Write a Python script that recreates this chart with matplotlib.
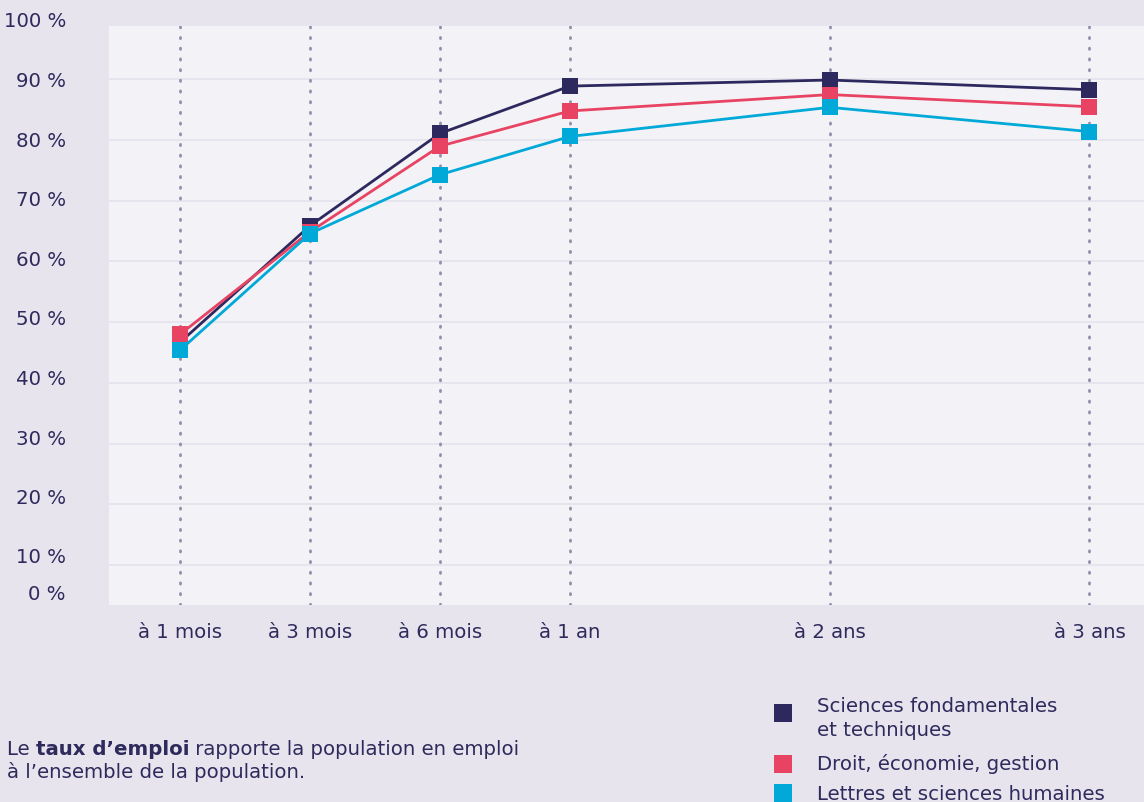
import matplotlib
matplotlib.use('Agg')
import matplotlib.pyplot as plt
from matplotlib.patches import Rectangle
from matplotlib.transforms import blended_transform_factory

# data
periodes = ['à 1 mois', 'à 3 mois', 'à 6 mois', 'à 1 an', 'à 2 ans', 'à 3 ans']
positions = [0, 1, 2, 3, 5, 7]   # horizontal spacing used by the original layout

sciences = [46.7, 65.9, 81.1, 88.9, 89.9, 88.3]
droit = [48.0, 64.9, 79.0, 84.8, 87.5, 85.5]
lettres = [45.4, 64.6, 74.3, 80.6, 85.4, 81.4]

series_names = ['Sciences fondamentales\net techniques',
                'Droit, économie, gestion',
                'Lettres et sciences humaines']
colors = ['#2D295E', '#E84362', '#00A9D8']

y_labels = ['100 %', '90 %', '80 %', '70 %', '60 %', '50 %',
            '40 %', '30 %', '20 %', '10 %', '0 %']
y_label_pos = [99.5, 89.7, 79.8, 70.1, 60.2, 50.5, 40.6, 30.7, 21.0, 11.3, 5.2]

TEXT = '#2E2A5C'
BG = '#E7E4EE'
PANEL = '#F3F2F7'
W, H = 1144, 802
FS = 14.2

plt.rcParams['font.family'] = ['DejaVu Sans']


def px(x, y):
    """pixel coords (from top-left) -> figure fraction"""
    return x / W, 1 - y / H


fig = plt.figure(figsize=(W / 100, H / 100), dpi=100, facecolor=BG)
left, top, right, bottom = 108.7, 26, 1144, 605
ax = fig.add_axes([left / W, 1 - bottom / H, (right - left) / W, (bottom - top) / H])
ax.set_facecolor(PANEL)
for s in ax.spines.values():
    s.set_visible(False)

ax.set_xlim(-0.55, 7.42)
ax.set_ylim(3.4, 98.8)

# horizontal grid
for v in range(10, 100, 10):
    ax.axhline(v, color='#E4E2EC', lw=1.2, zorder=0)
# dotted verticals
for xp in positions:
    ax.axvline(xp, color='#948EAA', lw=2, ls=(0, (0.45, 3.4)), dash_capstyle='round', zorder=1)

for vals, c, z in zip([sciences, droit, lettres], colors, [3, 4, 5]):
    ax.plot(positions, vals, color=c, lw=2, marker='s', markersize=11.5,
            markeredgewidth=0, zorder=z)

ax.set_xticks(positions)
ax.set_xticklabels(periodes, fontsize=FS, color=TEXT)
ax.tick_params(axis='x', length=0, pad=13)
ax.set_yticks([])

ytr = blended_transform_factory(fig.transFigure, ax.transData)
for lab, v in zip(y_labels, y_label_pos):
    fig.text(66 / W, v, lab, fontsize=FS, color=TEXT, ha='right', va='center',
             transform=ytr)

# note at bottom left
t1 = fig.text(*px(7, 755), 'Le ', fontsize=FS, color=TEXT, va='baseline')
t2 = ax.annotate("taux d’emploi", xycoords=t1, xy=(1, 0), va='bottom',
                 fontsize=FS, color=TEXT, fontweight='bold', annotation_clip=False)
ax.annotate(' rapporte la population en emploi', xycoords=t2, xy=(1, 0), va='bottom',
            fontsize=FS, color=TEXT, annotation_clip=False)
fig.text(*px(7, 778), 'à l’ensemble de la population.', fontsize=FS, color=TEXT, va='baseline')

# legend
sq = 18
legend_rows = [(704, [712, 736]), (755, [770]), (784, [800])]
for (sq_top, baselines), name, c in zip(legend_rows, series_names, colors):
    x0, y0 = px(774, sq_top + sq)
    fig.add_artist(Rectangle((x0, y0), sq / W, sq / H, transform=fig.transFigure,
                             facecolor=c, edgecolor='none'))
    for line, b in zip(name.split('\n'), baselines):
        fig.text(*px(817, b), line, fontsize=FS, color=TEXT, va='baseline')

fig.savefig('out.png', dpi=100, facecolor=BG)
